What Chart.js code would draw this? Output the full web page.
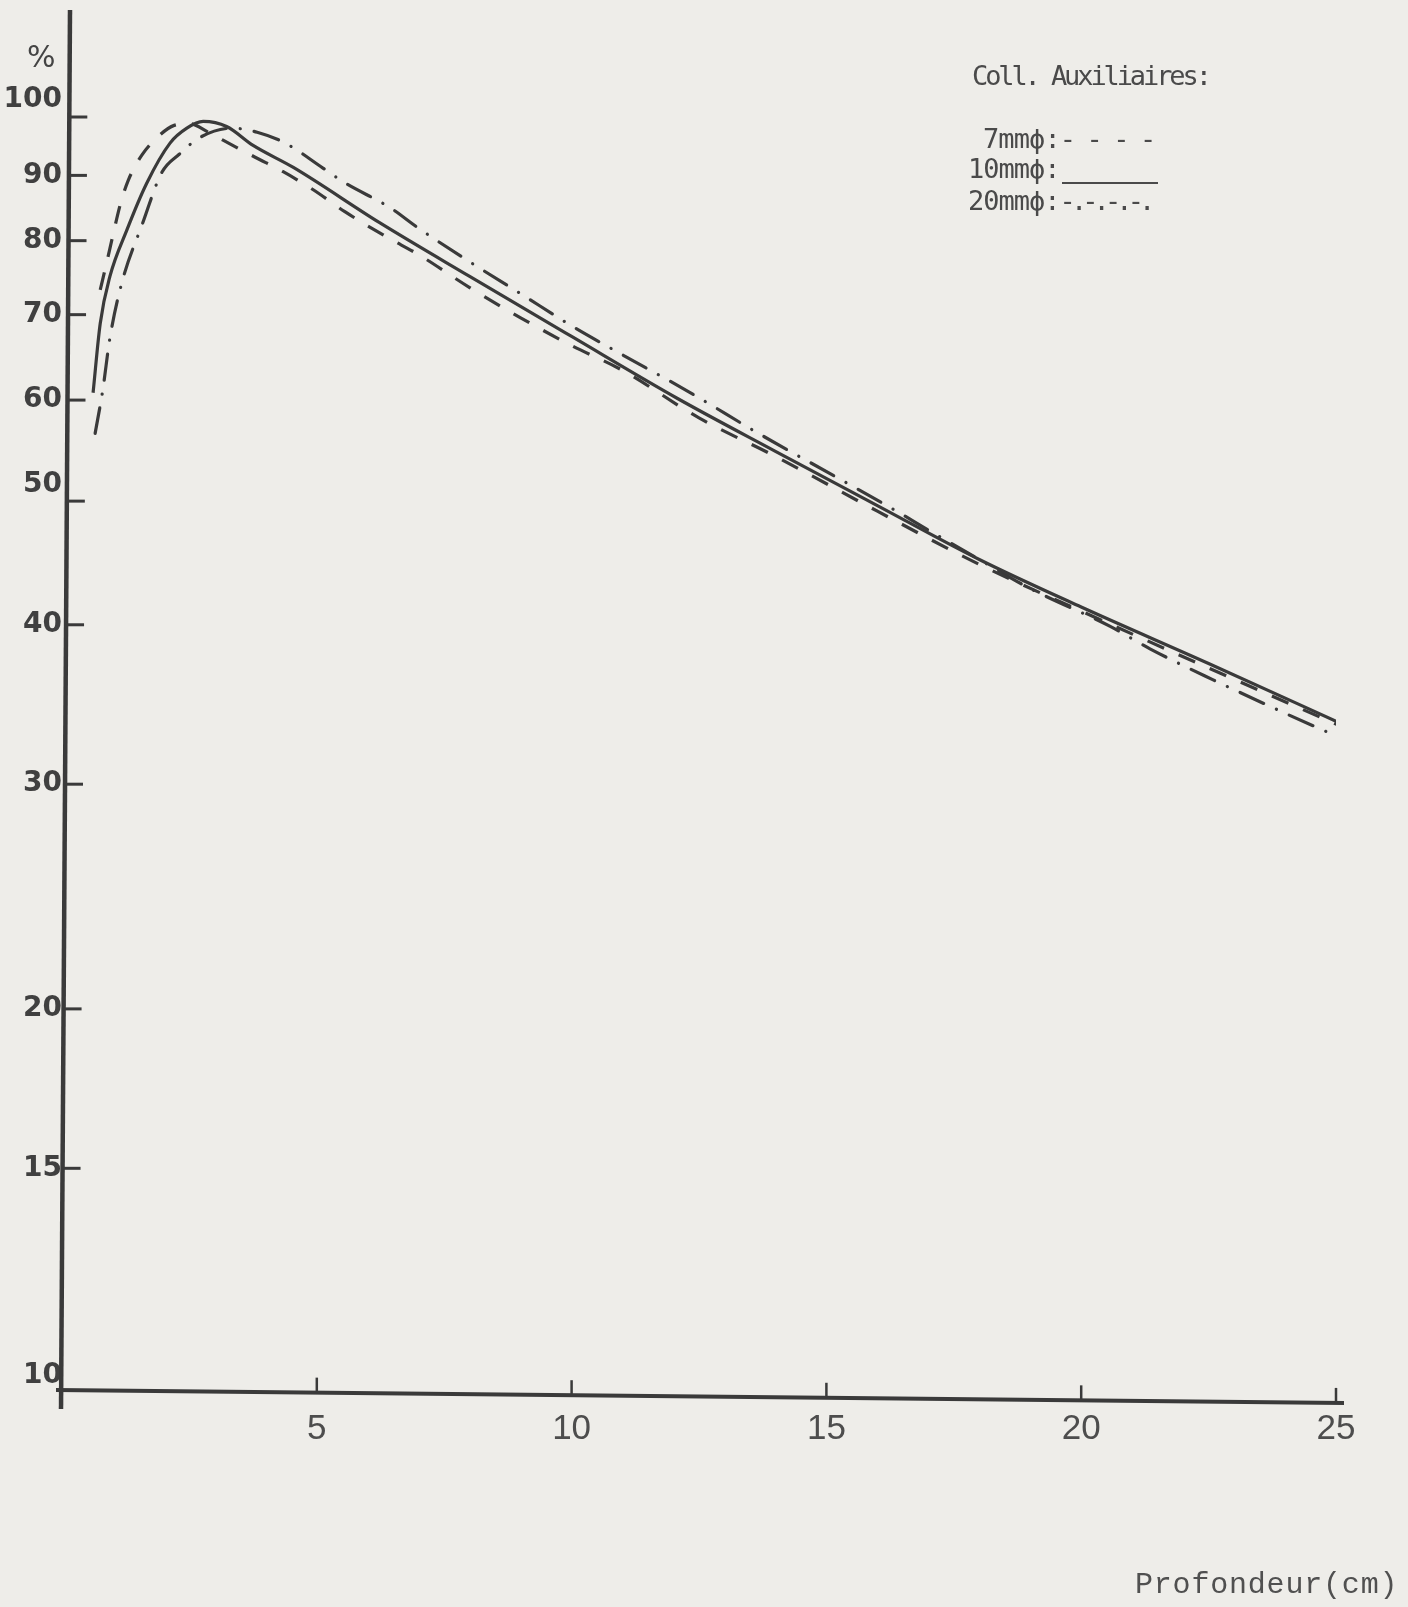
<!DOCTYPE html>
<html>
<head>
<meta charset="utf-8">
<script src="https://cdn.jsdelivr.net/npm/chart.js@4.4.3/dist/chart.umd.min.js"></script>
<style>
  body { margin: 0; background: #eeede9; }
  #wrap { position: relative; width: 1408px; height: 1607px; overflow: hidden; }
  #c { position: absolute; left: 0; top: 0; }
  .t { position: absolute; white-space: pre; color: #4a4a4a; line-height: 1; }
  .mono { font-family: "DejaVu Sans Mono", monospace; font-size: 27px; }
</style>
</head>
<body>
<div id="wrap">
  <canvas id="c" width="1408" height="1607"></canvas>
  <div class="t" style="left:27px;top:42px;font-family:'DejaVu Sans';font-size:30px;color:#444;">%</div>

  <div class="t mono" style="left:972px;top:62px;letter-spacing:-3.1px;">Coll. Auxiliaires:</div>
  <div class="t mono" style="left:983px;top:125px;"><span style="letter-spacing:-0.9px">7mmϕ:</span><span style="letter-spacing:-2.9px">- - - -</span></div>
  <div class="t mono" style="left:968px;top:155px;letter-spacing:-1px;">10mmϕ:</div>
  <div style="position:absolute;left:1062px;top:182px;width:96px;height:2px;background:#4a4a4a;"></div>
  <div class="t mono" style="left:968px;top:187px;"><span style="letter-spacing:-1px">20mmϕ:</span><span style="letter-spacing:-4.9px">-.-.-.-.</span></div>

  <div class="t" style="left:1135px;top:1570px;font-family:'Liberation Mono';font-size:30px;letter-spacing:0.8px;color:#505050;">Profondeur(cm)</div>
</div>

<script>
// profondeur (cm) et rendement en profondeur (%)
const depth7 = [0.75, 0.88, 1.0, 1.14, 1.3, 1.57, 1.92, 2.2, 2.5, 2.85, 3.16, 3.79, 4.34, 4.93, 5.55, 6.38, 7.0, 8.0, 9.0, 10.0, 11.0, 12.5, 14, 16, 18, 20, 22.5, 25.1];
const dose7 = [73.2, 77.0, 80.8, 85.3, 89.2, 93.4, 96.8, 98.5, 98.8, 97.4, 95.9, 93.0, 90.6, 87.7, 84.3, 80.5, 78.0, 73.5, 69.6, 66.2, 63.3, 58.1, 54.2, 49.1, 44.6, 41.0, 37.0, 33.3];

const depth10 = [0.61, 0.75, 0.94, 1.27, 1.66, 2.12, 2.45, 2.77, 3.23, 3.75, 4.54, 6.24, 8, 10, 12.07, 14, 16, 18, 20, 22.5, 25.08];
const dose10 = [60.8, 68.9, 75.0, 81.5, 88.7, 95.4, 98.0, 99.2, 98.3, 95.0, 91.3, 82.6, 75.0, 67.3, 60.2, 54.7, 49.6, 45.0, 41.3, 37.3, 33.5];

const depth20 = [0.65, 0.8, 0.94, 1.18, 1.57, 1.96, 2.3, 2.71, 3.33, 3.83, 4.38, 5.12, 5.55, 6.44, 7.0, 8.0, 9.0, 10.0, 11.0, 12.3, 13.7, 15.2, 16.3, 17.1, 18.0, 19.0, 20.56, 21.35, 22.6, 24.0, 24.95];
const dose20 = [56.5, 61.1, 67.1, 74.3, 82.3, 90.5, 93.5, 96.4, 98.0, 97.3, 95.4, 91.2, 88.8, 84.9, 81.8, 77.0, 72.7, 68.6, 65.1, 60.9, 56.4, 52.2, 49.3, 47.2, 45.0, 42.7, 39.9, 38.3, 36.2, 34.1, 32.8];

const xTicks = [5, 10, 15, 20, 25];
const yTicks = [10, 15, 20, 30, 40, 50, 60, 70, 80, 90, 100];
const liftedLabels = [10, 50, 100]; // étiquettes posées au-dessus du trait

const INK = "#3a3a3a";

const pts = (xs, ys) => xs.map((x, i) => ({ x, y: ys[i] }));

// axes dessinés à la main comme sur l'original (légèrement penchés)
const frame = {
  id: "frame",
  afterDraw(chart) {
    const { ctx, chartArea: a, scales: { x, y } } = chart;
    const axisX = (py) => a.left + 8 - (9 * (py - 10)) / 1399;
    const axisY = (px) => a.bottom - 3 + (13 * (px - 56)) / 1288;
    ctx.save();
    ctx.strokeStyle = INK;
    ctx.lineCap = "butt";

    ctx.lineWidth = 4.5;
    ctx.beginPath();
    ctx.moveTo(axisX(10), 10);
    ctx.lineTo(axisX(1409), 1409);
    ctx.stroke();

    ctx.lineWidth = 4;
    ctx.beginPath();
    ctx.moveTo(56, axisY(56));
    ctx.lineTo(1344, axisY(1344));
    ctx.stroke();

    ctx.lineWidth = 3;
    yTicks.forEach((v) => {
      if (v === 10) return;
      const py = y.getPixelForValue(v);
      const x0 = axisX(py);
      ctx.beginPath();
      ctx.moveTo(x0, py);
      ctx.lineTo(x0 + 18, py);
      ctx.stroke();
    });

    ctx.lineWidth = 2.5;
    xTicks.forEach((v) => {
      const px = x.getPixelForValue(v);
      const y0 = axisY(px);
      ctx.beginPath();
      ctx.moveTo(px, y0);
      ctx.lineTo(px, y0 - 15);
      ctx.stroke();
    });
    ctx.restore();
  },
};

const line = {
  borderColor: INK,
  borderWidth: 3.2,
  pointRadius: 0,
  fill: false,
  cubicInterpolationMode: "monotone",
};

new Chart(document.getElementById("c"), {
  type: "line",
  data: {
    datasets: [
      { ...line, label: "7mmϕ", data: pts(depth7, dose7), borderDash: [18, 16] },
      { ...line, label: "10mmϕ", data: pts(depth10, dose10) },
      {
        ...line,
        label: "20mmϕ",
        data: pts(depth20, dose20),
        borderDash: [26, 14, 0.1, 14],
        borderCapStyle: "round",
      },
    ],
  },
  options: {
    responsive: false,
    animation: false,
    devicePixelRatio: 1,
    layout: { padding: { top: 10, right: 72, left: 0, bottom: 0 } },
    plugins: { legend: { display: false }, tooltip: { enabled: false } },
    scales: {
      x: {
        type: "linear",
        min: 0,
        max: 25,
        grid: { display: false, drawTicks: false },
        border: { display: false },
        afterBuildTicks: (s) => { s.ticks = xTicks.map((v) => ({ value: v })); },
        afterFit: (s) => { s.height = 214; s.paddingLeft = 0; s.paddingRight = 0; },
        ticks: {
          autoSkip: false,
          maxRotation: 0,
          padding: 15,
          color: "#4d4d4d",
          font: { family: "Liberation Sans", size: 35 },
          callback: (v) => String(v),
        },
      },
      y: {
        type: "logarithmic",
        min: 10,
        max: 121.3,
        grid: { display: false, drawTicks: false },
        border: { display: false },
        afterBuildTicks: (s) => { s.ticks = yTicks.map((v) => ({ value: v })); },
        afterFit: (s) => { s.width = 62; s.paddingTop = 0; s.paddingBottom = 0; },
        ticks: {
          autoSkip: false,
          padding: 0,
          color: "#404040",
          font: { family: "DejaVu Sans", size: 28, weight: "bold" },
          callback: (v) => (liftedLabels.includes(v) ? [String(v), ""] : String(v)),
        },
      },
    },
  },
  plugins: [frame],
});
</script>
</body>
</html>
